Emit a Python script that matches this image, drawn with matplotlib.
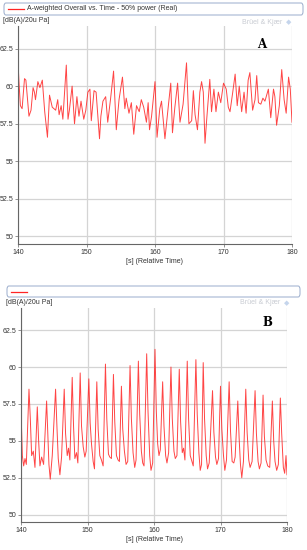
import matplotlib

matplotlib.use("Agg")
import matplotlib.pyplot as plt
from matplotlib.patches import FancyBboxPatch

# panel A: A-weighted overall level, steady (time s, level dB)
a_time = [
    140.0, 140.15, 140.35, 140.6, 140.95, 141.15, 141.6, 141.9, 142.2, 142.4,
    142.55, 142.9, 143.2, 143.55, 143.9, 144.3, 144.6, 145.0, 145.5, 145.8,
    146.0, 146.3, 146.55, 147.05, 147.3, 147.5, 147.9, 148.25, 148.6, 148.9,
    149.2, 149.6, 149.9, 150.2, 150.5, 150.7, 151.1, 151.4, 151.9, 152.1,
    152.4, 152.8, 153.1, 153.5, 153.95, 154.35, 154.75, 155.25, 155.6, 155.8,
    156.2, 156.55, 156.9, 157.3, 157.7, 158.0, 158.35, 158.75, 159.0, 159.2,
    159.5, 160.0, 160.3, 160.7, 160.95, 161.45, 161.95, 162.3, 162.55, 162.9,
    163.3, 163.65, 164.1, 164.6, 164.95, 165.35, 165.6, 165.85, 166.2, 166.55,
    166.8, 167.05, 167.3, 167.55, 168.0, 168.25, 168.6, 168.9, 169.25, 169.6,
    170.0, 170.4, 170.7, 170.95, 171.35, 171.7, 172.0, 172.3, 172.65, 173.0,
    173.3, 173.6, 173.85, 174.25, 174.6, 174.85, 175.1, 175.45, 175.75, 176.05,
    176.55, 176.9, 177.3, 177.5, 177.75, 178.15, 178.5, 178.85, 179.15, 179.5,
    179.75, 180.0,
]
a_level = [
    61.6, 60.2, 58.7, 58.5, 60.5, 60.4, 58.0, 58.4, 59.9, 59.6,
    59.1, 60.3, 59.9, 60.4, 58.3, 56.6, 59.4, 58.6, 58.4, 59.1,
    58.1, 58.7, 57.8, 61.4, 57.8, 58.4, 60.0, 57.5, 59.3, 58.0,
    59.0, 57.8, 58.4, 59.6, 59.8, 57.7, 59.7, 59.6, 56.5, 58.0,
    59.0, 59.3, 57.6, 59.1, 61.0, 57.1, 59.1, 60.6, 58.5, 59.2,
    58.2, 58.9, 56.8, 58.7, 58.3, 59.1, 58.6, 57.6, 58.9, 57.1,
    58.0, 60.3, 56.6, 58.5, 59.0, 56.5, 58.7, 60.2, 56.9, 58.6,
    60.2, 57.6, 58.8, 61.55, 57.5, 57.7, 59.7, 58.1, 57.1, 59.6,
    60.3, 59.6, 56.2, 57.8, 60.45, 58.3, 59.8, 58.3, 59.6, 58.9,
    60.2, 59.8, 58.6, 58.3, 59.6, 60.8, 58.7, 60.0, 58.3, 59.6,
    58.2, 60.4, 60.9, 58.4, 59.1, 60.7, 58.9, 58.8, 59.2, 59.0,
    59.8, 57.9, 59.8, 59.3, 57.4, 58.7, 61.1, 59.1, 58.2, 60.6,
    59.8, 57.6,
]

# panel B: pulsing level
b_time = [
    140.0, 140.2, 140.4, 140.6, 140.8,
    141.2, 141.4, 141.6, 141.85, 142.1,
    142.45, 142.65, 142.85, 143.1, 143.4,
    143.85, 144.05, 144.2, 144.4, 144.7,
    145.2, 145.4, 145.6, 145.85, 146.1,
    146.5, 146.7, 146.95, 147.15, 147.35,
    147.7, 147.9, 148.1, 148.35, 148.55,
    148.9, 149.1, 149.35, 149.6, 149.8,
    150.2, 150.4, 150.6, 150.85, 151.05,
    151.4, 151.6, 151.85, 152.1, 152.35,
    152.7, 152.9, 153.15, 153.35, 153.6,
    153.9, 154.1, 154.35, 154.6, 154.8,
    155.1, 155.3, 155.55, 155.8, 156.05,
    156.4, 156.6, 156.85, 157.1, 157.3,
    157.65, 157.85, 158.1, 158.3, 158.5,
    158.9, 159.1, 159.35, 159.55, 159.8,
    160.15, 160.35, 160.55, 160.75, 160.95,
    161.3, 161.5, 161.75, 161.95, 162.2,
    162.55, 162.75, 163.0, 163.2, 163.45,
    163.8, 164.0, 164.25, 164.45, 164.65,
    165.0, 165.2, 165.45, 165.7, 165.9,
    166.3, 166.5, 166.75, 166.95, 167.15,
    167.4, 167.6, 167.85, 168.05, 168.3,
    168.8, 169.0, 169.25, 169.45, 169.7,
    170.0, 170.2, 170.45, 170.65, 170.9,
    171.3, 171.5, 171.75, 172.0, 172.2,
    172.6, 172.8, 173.0, 173.2, 173.45,
    173.8, 174.0, 174.25, 174.45, 174.75,
    175.2, 175.4, 175.65, 175.85, 176.1,
    176.4, 176.6, 176.85, 177.1, 177.4,
    177.8, 178.0, 178.2, 178.45, 178.7,
    179.0, 179.2, 179.45, 179.65, 179.85, 180.0,
]
b_level = [
    57.1, 54.0, 53.3, 53.8, 53.4,
    58.5, 56.5, 54.0, 54.3, 53.2,
    57.3, 55.0, 53.3, 53.9, 53.4,
    57.7, 55.2, 53.4, 52.4, 54.0,
    58.5, 56.0, 53.8, 52.7, 53.9,
    58.5, 55.5, 54.0, 54.5, 53.7,
    59.3, 56.0, 53.8, 54.2, 53.5,
    59.6, 56.0, 54.6, 53.9, 54.3,
    59.2, 56.2, 54.8, 53.6, 53.1,
    59.0, 55.8, 54.0, 53.7, 53.3,
    60.2, 56.5, 54.1, 53.9, 53.8,
    59.5, 56.3, 54.0, 53.7, 53.6,
    58.7, 55.8, 54.3, 53.4, 53.6,
    60.1, 56.5, 54.2, 53.2, 53.7,
    60.4, 56.8, 54.3, 53.5, 53.3,
    60.9, 57.0, 54.0, 53.0, 53.5,
    61.2, 57.0, 54.8, 54.0, 54.4,
    59.0, 56.0, 54.0, 53.5, 54.2,
    60.0, 56.5, 54.3, 53.8, 54.0,
    59.85, 56.3, 54.2, 54.5, 53.7,
    60.4, 56.5, 54.0, 53.6, 53.3,
    60.5, 56.8, 54.2, 53.0, 53.4,
    60.3, 56.5, 54.0, 53.1, 53.5,
    58.4, 55.6, 53.9, 53.4, 53.8,
    58.7, 55.8, 54.0, 53.0, 53.7,
    59.0, 55.7, 53.6, 53.5, 53.9,
    57.7, 55.2, 53.4, 52.5, 53.6,
    58.5, 55.6, 53.7, 53.2, 53.6,
    58.4, 55.5, 53.6, 53.1, 53.5,
    58.1, 55.3, 53.7, 53.3, 53.2,
    57.7, 55.0, 53.6, 53.0, 53.4,
    57.9, 55.5, 53.2, 52.8, 54.0, 52.7,
]

x_ticks = [140, 150, 160, 170, 180]
y_ticks = [50, 52.5, 55, 57.5, 60, 62.5]
y_tick_labels = ["50", "52.5", "55", "57.5", "60", "62.5"]
legend_a = "A-weighted Overall vs. Time - 50% power (Real)"
legend_b = ""

W, H = 307, 550
LINE = "#ff2424"
SMALL = ["Liberation Sans Narrow", "Liberation Sans", "DejaVu Sans"]
FS = 5.0

fig = plt.figure(figsize=(W / 100, H / 100), dpi=100)


def fx(px):
    return px / W


def fy(py):
    return 1 - py / H


def legend_box(x0, x1, y0, y1, text):
    box = FancyBboxPatch(
        (fx(x0), fy(y1)), fx(x1 - x0), (y1 - y0) / H,
        boxstyle="round,pad=0,rounding_size=0.006",
        transform=fig.transFigure, facecolor="white",
        edgecolor="#9aaccc", linewidth=0.7,
    )
    fig.patches.append(box)
    ym = fy((y0 + y1) / 2)
    fig.lines.append(plt.Line2D([fx(x0 + 4), fx(x0 + 20)], [ym, ym],
                                transform=fig.transFigure, color=LINE, lw=0.9))
    if text:
        fig.text(fx(x0 + 23), ym, text, fontsize=FS, family=SMALL,
                 color="#333333", va="center", ha="left")


def panel(rect, t, v, letter, letter_xy, ylabel_xy, mark_xy):
    ax = fig.add_axes(rect)
    ax.plot(t, v, color=LINE, lw=0.7, alpha=0.85)
    ax.set_xlim(140, 180)
    ax.set_ylim(49.5, 64)
    ax.set_xticks(x_ticks)
    ax.set_yticks(y_ticks)
    ax.set_yticklabels(y_tick_labels)
    ax.grid(True, color="#d4d4d4", lw=0.9)
    ax.set_axisbelow(True)
    for side in ("top", "right"):
        ax.spines[side].set_visible(False)
    for side in ("left", "bottom"):
        ax.spines[side].set_color("#666666")
        ax.spines[side].set_linewidth(0.8)
    ax.tick_params(length=2, width=0.5, color="#666666", pad=1.5,
                   labelsize=FS, labelcolor="#333333")
    for lab in ax.get_xticklabels() + ax.get_yticklabels():
        lab.set_family(SMALL)
    ax.set_xlabel("[s] (Relative Time)", fontsize=FS, family=SMALL,
                  color="#333333", labelpad=1.5)
    fig.text(fx(ylabel_xy[0]), fy(ylabel_xy[1]), "[dB(A)/20u Pa]", fontsize=FS,
             family=SMALL, color="#333333", va="center", ha="left")
    fig.text(fx(mark_xy[0]), fy(mark_xy[1]), "Brüel & Kjær", fontsize=FS,
             family=SMALL, color="#c9ccd3", va="center", ha="left")
    fig.text(fx(mark_xy[0] + 44), fy(mark_xy[1]), "\u25c6", fontsize=5,
             color="#c5d5ec", va="center", ha="left")
    fig.text(fx(letter_xy[0]), fy(letter_xy[1]), letter, fontsize=8.5,
             family="DejaVu Serif", weight="bold", va="center", ha="center")
    return ax


legend_box(4, 303, 3, 15, legend_a)
legend_box(7, 300, 286, 297, legend_b)

panel([fx(18), fy(244), fx(292 - 18), (244 - 26) / H], a_time, a_level,
      "A", (262, 44), (3, 21), (242, 22))
panel([fx(21), fy(522), fx(287 - 21), (522 - 308) / H], b_time, b_level,
      "B", (267, 323), (6, 303), (240, 303))

fig.savefig("out.png", dpi=100)
